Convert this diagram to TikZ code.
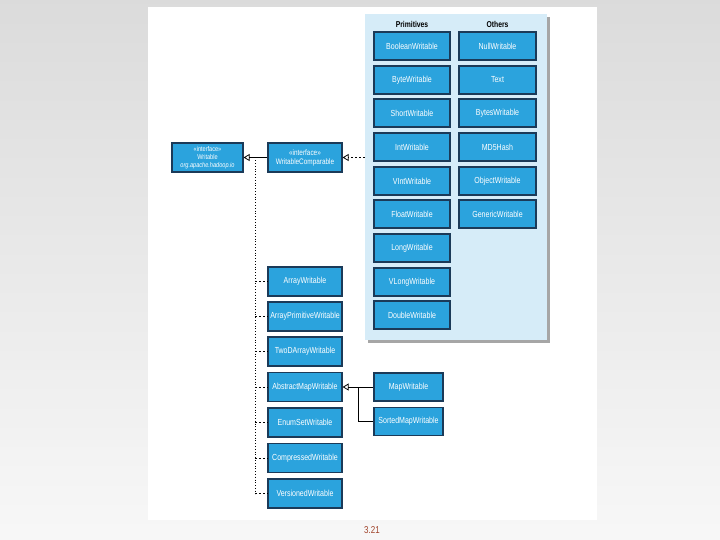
\documentclass[tikz,border=0pt]{standalone}
\usepackage{fontspec}
\setsansfont{Liberation Sans}[FakeStretch=0.8]
\usetikzlibrary{arrows.meta,calc}
\definecolor{boxblue}{HTML}{2BA3DD}
\definecolor{boxedge}{HTML}{1B3A58}
\definecolor{panelblue}{HTML}{D6ECF8}
\definecolor{slidenum}{HTML}{A0432A}
\tikzset{cls/.style={draw=boxedge, line width=1.2pt, fill=boxblue, text=white,
    minimum width=76pt, minimum height=28pt, inner sep=1pt, font=\sffamily\fontsize{8.8}{10}\selectfont},
  inherit/.style={-{Triangle[open, length=6pt, width=7pt]}, thick},
  realize/.style={-{Triangle[open, length=6pt, width=7pt]}, thick, dash pattern=on 2pt off 2pt},
  tick/.style={thick, dash pattern=on 2pt off 2pt},
  hdr/.style={font=\sffamily\bfseries\fontsize{8.5}{9}\selectfont}}

\begin{document}
\begin{tikzpicture}[x=1pt, y=-1pt]
  \useasboundingbox (0,0) rectangle (720,540);
  % slide
  \shade[top color=black!14, bottom color=black!3] (0,0) rectangle (720,540);
  \fill[white] (148,7) rectangle (597,520);
  \node[font=\sffamily\fontsize{10}{11}\selectfont, text=slidenum] (pg) at (372,530) {3.21};
  % primitives / others panel
  \fill[black!35] (368,17) rectangle (550,343);
  \node[fill=panelblue, minimum width=182pt, minimum height=326pt, inner sep=0pt] (panel) at (456,177) {};
  \node[hdr] (hp) at (412,24) {Primitives};
  \node[hdr] (ho) at (497.5,24) {Others};
  \foreach \n/\t/\y in {b/BooleanWritable/46, by/ByteWritable/80, s/ShortWritable/113,
      i/IntWritable/147, vi/VIntWritable/181, f/FloatWritable/214,
      l/LongWritable/248, vl/VLongWritable/282, d/DoubleWritable/315}
    \node[cls] (\n) at (412,\y) {\t};
  \foreach \n/\t/\y in {nw/NullWritable/46, tx/Text/80, bw/BytesWritable/113,
      md/MD5Hash/147, ow/ObjectWritable/181, gw/GenericWritable/214}
    \node[cls, minimum width=77pt] (\n) at (497.5,\y) {\t};
  % interfaces
  \node[cls, minimum width=71pt, minimum height=29pt, align=center, font=\sffamily\fontsize{7}{8}\selectfont] (w) at (207.5,157.5)
    {«interface»\\Writable\\\textit{org.apache.hadoop.io}};
  \node[cls, minimum width=74pt, minimum height=29pt, align=center, font=\sffamily\fontsize{8}{9}\selectfont] (wc) at (305,157.5)
    {«interface»\\WritableComparable};
  \draw[inherit] (wc) -- (w);
  \draw[realize] (panel.west |- wc.east) -- (wc.east);
  % other implementations
  \foreach \n/\t/\y in {aw/ArrayWritable/281.5, apw/ArrayPrimitiveWritable/316.5,
      tdw/TwoDArrayWritable/351.5, amw/AbstractMapWritable/387,
      esw/EnumSetWritable/422.5, cw/CompressedWritable/458, vw/VersionedWritable/493.5}
    \node[cls, minimum width=74pt, minimum height=29pt] (\n) at (305,\y) {\t};
  \coordinate (tap) at (255,157.5);
  \draw[thick, dotted] (tap) -- (tap |- vw.west);
  \foreach \n in {aw, apw, tdw, amw, esw, cw, vw}
    \draw[tick] (tap |- \n.west) -- (\n.west);
  % maps
  \node[cls, minimum width=69pt] (mw) at (408.5,387) {MapWritable};
  \node[cls, minimum width=69pt] (smw) at (408.5,421.5) {SortedMapWritable};
  \coordinate (jn) at (358,387);
  \draw[inherit] (mw) -- (amw);
  \draw[thick] (smw.west) -- (jn |- smw.west) -- (jn);
\end{tikzpicture}
\end{document}
